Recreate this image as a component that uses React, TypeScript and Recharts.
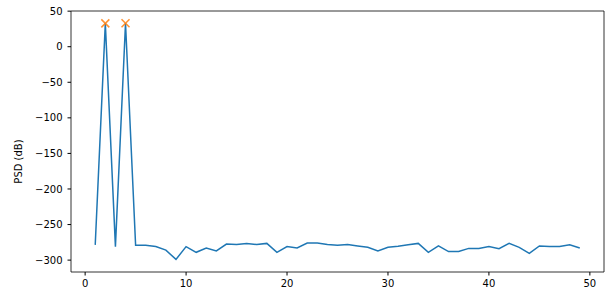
import React from 'react';
import { ComposedChart, Line, Scatter, XAxis, YAxis, ReferenceArea } from 'recharts';

const freqs = [1,2,3,4,5,6,7,8,9,10,11,12,13,14,15,16,17,18,19,20,21,22,23,24,25,26,27,28,29,30,31,32,33,34,35,36,37,38,39,40,41,42,43,44,45,46,47,48,49];
const psd = [-278.6,32.8,-281,33,-279,-279,-281,-286,-299,-281,-289,-283,-287,-277.5,-278,-276.5,-278,-276.5,-289,-281,-283,-276,-276,-278,-279,-278,-280,-282,-287,-282,-280.5,-278.5,-276.5,-289,-280,-288,-288,-283.5,-283.5,-281,-284,-276.5,-282,-290.5,-280,-281,-281,-278.5,-283];
const peakFreqs = [2, 4];
const peakVals = [32.8, 33];
const xTicks = [0, 10, 20, 30, 40, 50];
const yTicks = [50, 0, -50, -100, -150, -200, -250, -300];

const lineData = freqs.map((f, i) => ({ x: f, y: psd[i] }));
const peakData = peakFreqs.map((f, i) => ({ x: f, y: peakVals[i] }));

const X_DOMAIN: [number, number] = [-1.4, 51.4];
const Y_DOMAIN: [number, number] = [-316.7, 50.2];

const font = { fontFamily: 'DejaVu Sans', fontSize: 10, fill: '#000' };
const fmt = (v: number) => String(v).replace('-', '\u2212');

const XMark = (props: any) => {
  const { cx, cy } = props;
  const s = 4;
  return (
    <g opacity={0.85}>
      <line x1={cx - s} y1={cy - s} x2={cx + s} y2={cy + s} stroke="#ff7f0e" strokeWidth={1.5} />
      <line x1={cx - s} y1={cy + s} x2={cx + s} y2={cy - s} stroke="#ff7f0e" strokeWidth={1.5} />
    </g>
  );
};

export default function App() {
  return (
    <div style={{ position: 'absolute', left: 0, top: 0, background: '#fff' }}>
      <ComposedChart width={609} height={297} margin={{ top: 11, right: 5, bottom: 0, left: 0 }}>
        <XAxis
          dataKey="x"
          type="number"
          domain={X_DOMAIN}
          ticks={xTicks}
          allowDataOverflow
          height={25}
          tick={font}
          tickSize={3.5}
          tickMargin={4}
          axisLine={false}
          tickLine={{ stroke: '#000' }}
        />
        <YAxis
          type="number"
          domain={Y_DOMAIN}
          ticks={yTicks}
          tickFormatter={fmt}
          allowDataOverflow
          width={71}
          tick={font}
          tickSize={3.5}
          tickMargin={5}
          axisLine={false}
          tickLine={{ stroke: '#000' }}
          label={{ value: 'PSD (dB)', angle: -90, position: 'insideLeft', dx: 13, dy: 20, style: { fontFamily: 'DejaVu Sans', fontSize: 10, fill: '#000', textAnchor: 'middle' } }}
        />
        <ReferenceArea x1={X_DOMAIN[0]} x2={X_DOMAIN[1]} y1={Y_DOMAIN[0]} y2={Y_DOMAIN[1]} fill="none" fillOpacity={0} stroke="#000" strokeWidth={0.8} ifOverflow="visible" />
        <Line data={lineData} dataKey="y" stroke="#1f77b4" strokeWidth={1.5} dot={false} isAnimationActive={false} />
        <Scatter data={peakData} dataKey="y" shape={<XMark />} isAnimationActive={false} />
      </ComposedChart>
    </div>
  );
}
